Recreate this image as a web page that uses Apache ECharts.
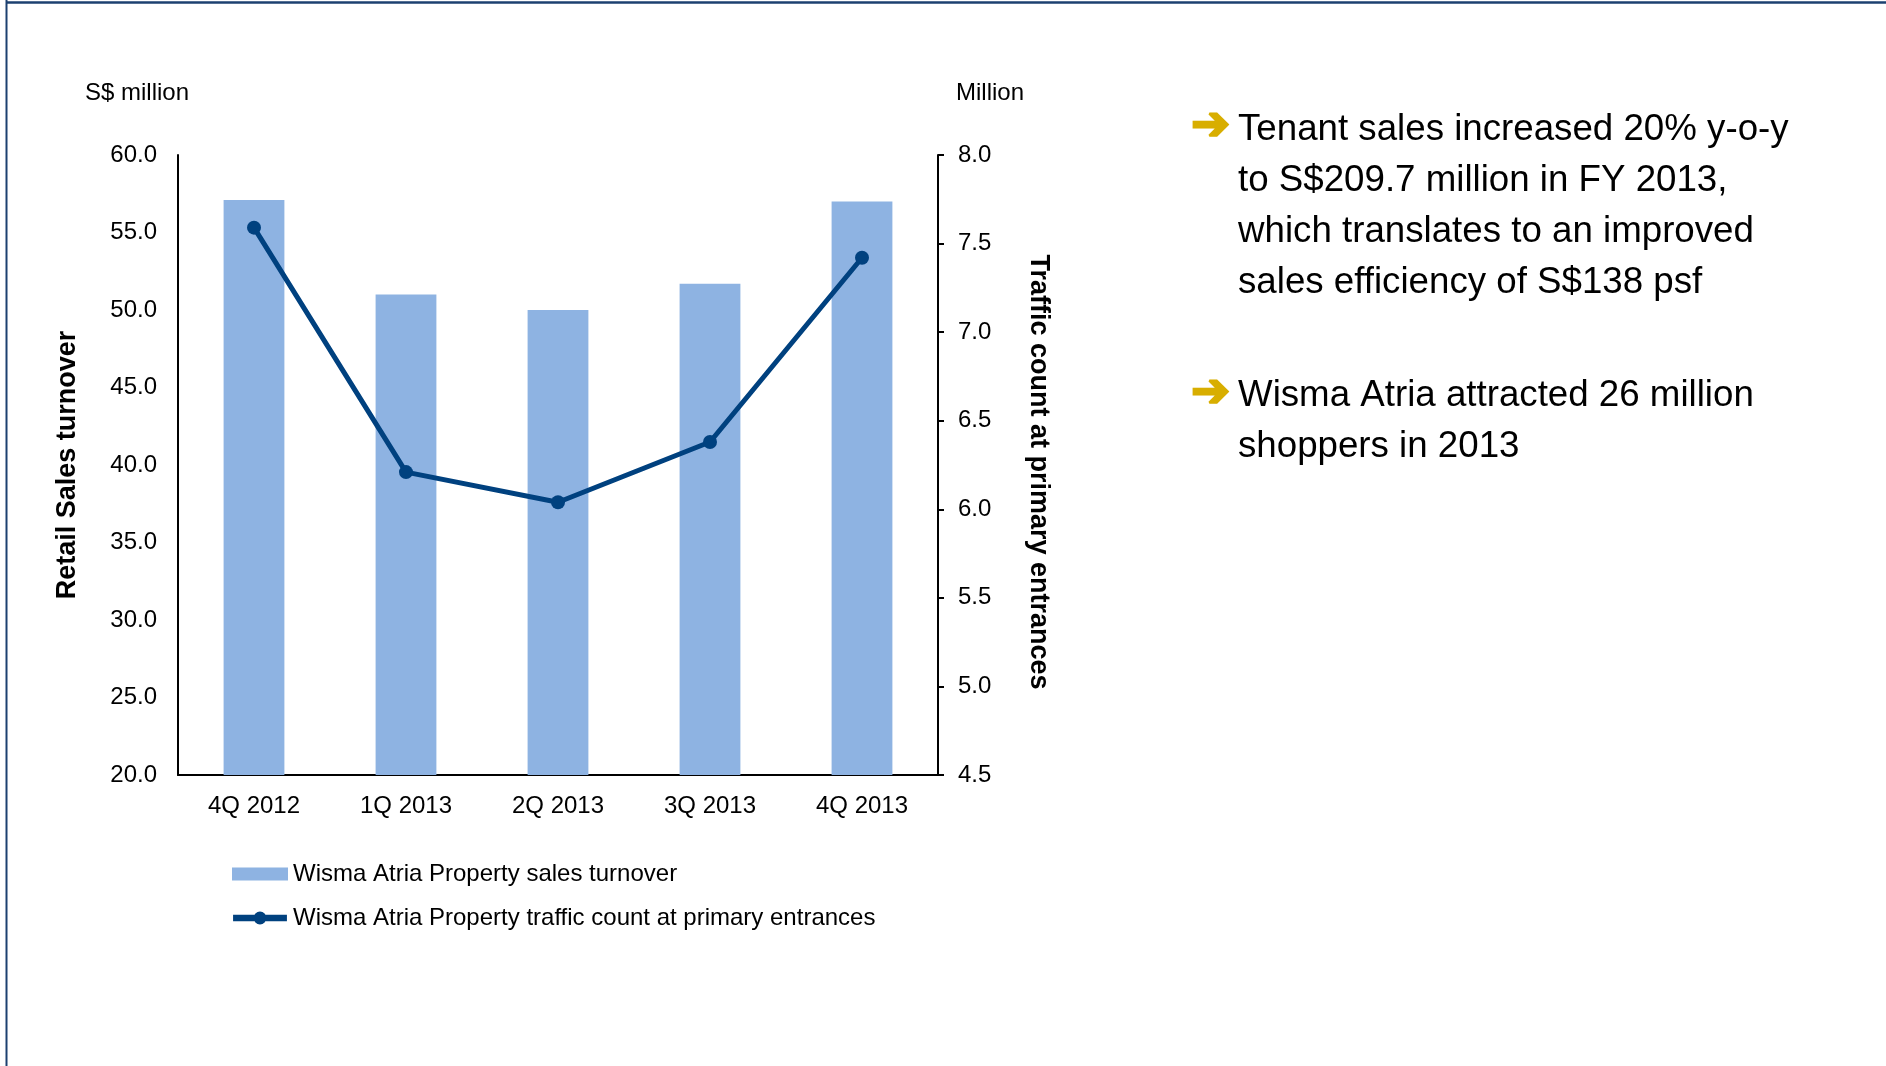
<!DOCTYPE html>
<html>
<head>
<meta charset="utf-8">
<script src="https://cdn.jsdelivr.net/npm/echarts@6/dist/echarts.min.js"></script>
<style>
html,body{margin:0;padding:0;background:#fff;}
#chart{width:1886px;height:1066px;}
</style>
</head>
<body>
<div id="chart"></div>
<script>
const categories = ['4Q 2012', '1Q 2013', '2Q 2013', '3Q 2013', '4Q 2013'];
const salesTurnover = [57.1, 51.0, 50.0, 51.7, 57.0];
const trafficCount = [7.59, 6.21, 6.04, 6.38, 7.42];
const barName = 'Wisma Atria Property sales turnover';
const lineName = 'Wisma Atria Property traffic count at primary entrances';
const leftUnit = 'S$ million';
const rightUnit = 'Million';
const leftTitle = 'Retail Sales turnover';
const rightTitle = 'Traffic count at primary entrances';
const bullet1 = 'Tenant sales increased 20% y-o-y\nto S$209.7 million in FY 2013,\nwhich translates to an improved\nsales efficiency of S$138 psf';
const bullet2 = 'Wisma Atria attracted 26 million\nshoppers in 2013';

const FONT = "'Liberation Sans', Arial, sans-serif";
const chart = echarts.init(document.getElementById('chart'), null, {renderer: 'canvas'});
const axisLineStyle = {color: '#000', width: 2};
const lineIcon = 'path://M0,3 L58,3 L58,10 L0,10 Z M22,6.5 A7,7 0 1,1 36,6.5 A7,7 0 1,1 22,6.5 Z';

chart.setOption({
  backgroundColor: '#fff',
  animation: false,
  textStyle: {fontFamily: FONT},
  grid: {left: 178, right: 948, top: 155, bottom: 291, containLabel: false},
  xAxis: {
    type: 'category',
    data: categories,
    axisLine: {show: true, lineStyle: axisLineStyle},
    axisTick: {show: false},
    axisLabel: {color: '#000', fontSize: 24, fontFamily: FONT, margin: 19}
  },
  yAxis: [{
    type: 'value', min: 20, max: 60, interval: 5,
    name: leftTitle, nameLocation: 'middle', nameRotate: 90, nameGap: 97,
    nameTextStyle: {color: '#000', fontSize: 27, fontWeight: 'bold', fontFamily: FONT},
    axisLine: {show: true, lineStyle: axisLineStyle},
    axisTick: {show: false},
    splitLine: {show: false},
    axisLabel: {color: '#000', fontSize: 24, fontFamily: FONT, margin: 21, lineHeight: 30, verticalAlign: 'middle', padding: [6, 0, 0, 0], formatter: v => v.toFixed(1)}
  }, {
    type: 'value', min: 4.5, max: 8, interval: 0.5, position: 'right',
    name: rightTitle, nameLocation: 'middle', nameRotate: -90, nameGap: 87,
    nameTextStyle: {color: '#000', fontSize: 27, fontWeight: 'bold', fontFamily: FONT, padding: [0, 0, 0, 14]},
    axisLine: {show: true, lineStyle: axisLineStyle},
    axisTick: {show: true, inside: false, length: 6, lineStyle: axisLineStyle},
    splitLine: {show: false},
    axisLabel: {color: '#000', fontSize: 24, fontFamily: FONT, margin: 20, lineHeight: 30, verticalAlign: 'middle', padding: [6, 0, 0, 0], formatter: v => v.toFixed(1)}
  }],
  legend: {
    orient: 'vertical', left: 227, top: 855,
    itemWidth: 56, itemHeight: 13, itemGap: 16,
    textStyle: {color: '#000', fontSize: 24, fontFamily: FONT, lineHeight: 28},
    data: [{name: barName, icon: 'rect'}, {name: lineName, icon: lineIcon}]
  },
  series: [{
    name: barName, type: 'bar', data: salesTurnover, yAxisIndex: 0,
    barWidth: '40%', itemStyle: {color: '#8EB3E2'}
  }, {
    name: lineName, type: 'line', data: trafficCount, yAxisIndex: 1,
    symbol: 'circle', symbolSize: 14, showSymbol: true,
    lineStyle: {color: '#00417F', width: 5}, itemStyle: {color: '#00417F'}
  }],
  graphic: [
    {type: 'line', shape: {x1: 6.5, y1: 0, x2: 6.5, y2: 1066}, style: {stroke: '#1C4070', lineWidth: 2}},
    {type: 'line', shape: {x1: 6, y1: 2.5, x2: 1886, y2: 2.5}, style: {stroke: '#1C4070', lineWidth: 2.5}},
    {type: 'text', left: 85, top: 81, style: {text: leftUnit, font: "24px " + FONT, fill: '#000'}},
    {type: 'text', left: 956, top: 81, style: {text: rightUnit, font: "24px " + FONT, fill: '#000'}},
    {type: 'text', left: 1190, top: 103, style: {text: '➔', font: "bold 46px 'DejaVu Sans'", fill: '#D8AE00', stroke: '#D8AE00', lineWidth: 2.5}},
    {type: 'text', left: 1190, top: 370, style: {text: '➔', font: "bold 46px 'DejaVu Sans'", fill: '#D8AE00', stroke: '#D8AE00', lineWidth: 2.5}},
    {type: 'text', left: 1238, top: 104, style: {text: bullet1, font: "36.7px " + FONT, fill: '#000', lineHeight: 51}},
    {type: 'text', left: 1238, top: 370, style: {text: bullet2, font: "36.7px " + FONT, fill: '#000', lineHeight: 51}}
  ]
});
</script>
</body>
</html>
